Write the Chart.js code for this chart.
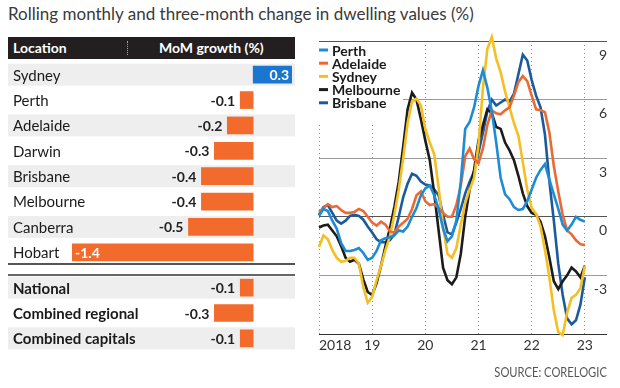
<!DOCTYPE html>
<html>
<head>
<meta charset="utf-8">
<script src="https://cdn.jsdelivr.net/npm/chart.js@4.4.0/dist/chart.umd.min.js"></script>
<style>
  html, body { margin: 0; padding: 0; background: #fff; }
  body { width: 620px; height: 388px; position: relative; overflow: hidden; font-family: Lato, sans-serif; color: #333; }
  .abs { position: absolute; }
  #title { left: 8px; top: 3px; font-size: 17px; white-space: nowrap; color: #3a3a3a; }
  #head { left: 8px; top: 37px; width: 287px; height: 22px; background: #231f20; color: #fff; font-weight: bold; font-size: 14px; line-height: 22px; }
  #head span { position: absolute; }
  #sep { left: 119px; top: 4px; height: 14px; border-left: 1px dotted #aaa; }
  .rule { left: 8px; width: 287px; height: 0; border-top: 2px solid #555; }
  #source { right: 13px; top: 364px; font-size: 13px; color: #555; transform: scaleX(0.86); transform-origin: right center; white-space: nowrap; }
</style>
</head>
<body>
<div id="title" class="abs">Rolling monthly and three-month change in dwelling values (%)</div>
<div id="head" class="abs">
  <span style="left:5px">Location</span>
  <span id="sep"></span>
  <span style="left:151px">MoM growth (%)</span>
</div>
<canvas id="cities" class="abs" style="left:8px;top:62px" width="287" height="203"></canvas>
<div class="abs rule" style="top:263px"></div>
<div class="abs rule" style="top:274px;border-top-color:#666"></div>
<canvas id="aggregates" class="abs" style="left:8px;top:275px" width="287" height="76"></canvas>
<canvas id="trend" class="abs" style="left:300px;top:0" width="320" height="388"></canvas>
<div id="source" class="abs">SOURCE: CORELOGIC</div>

<script>
// MoM growth table
const cities = ['Sydney', 'Perth', 'Adelaide', 'Darwin', 'Brisbane', 'Melbourne', 'Canberra', 'Hobart'];
const cityGrowth = [0.3, -0.1, -0.2, -0.3, -0.4, -0.4, -0.5, -1.4];
const aggregates = ['National', 'Combined regional', 'Combined capitals'];
const aggregateGrowth = [-0.1, -0.3, -0.1];

// rolling three-month change, monthly from Jan 2018 to Jan 2023
const perth = [0.05,0.4,0.3,-0.2,-0.6,-1.35,-1.75,-1.75,-1.7,-1.6,-1.85,-2.2,-2.1,-1.75,-1.2,-1.1,-1.05,-0.95,-0.7,-0.75,-0.5,0.0,0.45,1.1,1.45,1.6,1.1,0.4,-0.6,-1.25,-1.0,-0.2,1.8,4.5,4.85,5.6,6.7,7.5,6.6,5.4,3.8,2.0,1.15,0.9,0.5,0.35,0.4,0.8,1.4,2.0,2.4,2.7,1.9,1.15,0.4,-0.4,-0.7,-0.4,0.0,-0.15,-0.25];
const adelaide = [0.25,0.45,0.65,0.5,0.55,0.35,0.2,0.2,0.25,0.4,0.3,0.0,-0.3,-0.45,-0.25,-0.4,-0.75,-0.8,-0.5,-0.3,-0.1,0.4,1.1,1.3,0.8,0.6,0.65,0.45,0.2,0.0,0.0,0.6,1.6,3.1,3.5,2.95,2.75,3.5,4.7,5.45,5.3,5.25,5.45,5.6,6.2,6.9,7.2,6.95,6.2,5.5,5.45,5.35,4.3,2.6,1.3,0.1,-0.7,-0.9,-1.2,-1.4,-1.45];
const sydney = [-1.55,-0.95,-1.15,-1.7,-2.1,-2.3,-2.25,-2.1,-2.1,-2.4,-3.6,-4.4,-4.1,-3.25,-2.5,-1.7,-1.0,0.1,1.4,3.0,4.8,5.9,6.05,5.7,4.5,3.8,3.2,1.5,-0.5,-1.9,-2.1,-1.6,-0.4,0.7,1.4,2.0,3.7,6.6,8.6,9.2,8.1,7.4,6.4,5.6,4.8,4.15,2.8,1.4,0.45,0.15,-0.5,-1.7,-3.1,-4.8,-5.9,-6.05,-4.9,-4.15,-4.0,-3.65,-2.5];
const melbourne = [-0.55,-0.45,-0.4,-0.7,-1.0,-1.5,-2.1,-2.3,-2.2,-2.4,-3.2,-3.85,-4.0,-3.4,-2.5,-1.5,-0.6,0.5,1.8,3.6,5.5,6.35,6.0,5.0,3.9,2.9,1.2,-0.7,-2.6,-3.25,-3.45,-3.1,-1.9,0.0,1.4,2.4,3.9,4.7,5.5,5.3,4.6,4.5,3.8,3.4,2.9,2.1,1.2,0.55,0.2,0.1,-0.25,-1.0,-2.1,-3.3,-3.7,-3.3,-3.0,-2.6,-2.8,-3.1,-2.5];
const brisbane = [0.1,0.5,0.6,0.2,-0.2,-0.35,-0.2,0.05,0.1,0.05,-0.15,-0.5,-0.8,-1.15,-1.3,-1.3,-1.2,-0.9,0.0,1.0,1.7,2.2,2.1,1.8,1.65,1.6,1.4,1.1,0.1,-0.8,-0.9,-0.3,0.4,1.2,1.8,2.3,3.3,4.3,5.4,6.0,5.7,5.85,6.0,5.9,6.3,7.3,8.3,8.0,7.0,6.2,5.6,4.2,1.8,-0.2,-2.4,-4.0,-5.2,-5.5,-5.3,-4.5,-3.1];
const yearLabels = ['2018', '19', '20', '21', '22', '23'];

const ORANGE = '#f26a2c';
const BLUE = '#1a76cf';
const FONT = 'Lato, sans-serif';

// month axis runs Jan 2018 .. Jun 2023 (a little room after the last point)
const months = [];
for (let y = 2018; y <= 2023; y++) {
  for (let m = 1; m <= 12; m++) {
    if (y === 2023 && m > 6) break;
    months.push(y + '-' + String(m).padStart(2, '0'));
  }
}

function tableRows(bold) {
  return {
    id: 'tableRows',
    beforeDatasetsDraw(chart) {
      const { ctx, scales: { y } } = chart;
      ctx.save();
      chart.data.labels.forEach((name, i) => {
        const py = y.getPixelForValue(i);
        if (i % 2 === 0) {
          ctx.fillStyle = '#eeeeee';
          ctx.fillRect(0, py - 11, chart.width, 22);
        }
        ctx.fillStyle = '#1a1a1a';
        ctx.font = (bold ? 'bold ' : '') + '15px ' + FONT;
        ctx.textAlign = 'left';
        ctx.textBaseline = 'middle';
        ctx.fillText(name, 5, py + 1);
      });
      ctx.restore();
    },
    afterDatasetsDraw(chart) {
      const { ctx } = chart;
      const vals = chart.data.datasets[0].data;
      ctx.save();
      ctx.font = 'bold 14px ' + FONT;
      ctx.textBaseline = 'middle';
      chart.getDatasetMeta(0).data.forEach((bar, i) => {
        const v = vals[i];
        const txt = v.toFixed(1);
        const left = Math.min(bar.x, bar.base), right = Math.max(bar.x, bar.base);
        if (v > 0) {
          ctx.fillStyle = '#fff'; ctx.textAlign = 'right';
          ctx.fillText(txt, right - 3, bar.y + 1);
        } else if (right - left > 120) {
          // long bar: value goes inside, at its far end
          ctx.fillStyle = '#fff'; ctx.textAlign = 'left';
          ctx.fillText(txt, left + 3, bar.y + 1);
        } else {
          ctx.fillStyle = '#222'; ctx.textAlign = 'right';
          ctx.fillText(txt, left - 5, bar.y + 1);
        }
      });
      ctx.restore();
    }
  };
}

function barTable(id, labels, values, bold) {
  return new Chart(document.getElementById(id), {
    type: 'bar',
    data: {
      labels: labels,
      datasets: [{
        data: values,
        backgroundColor: values.map(v => v > 0 ? BLUE : ORANGE),
        borderWidth: 0,
        barThickness: 17
      }]
    },
    options: {
      indexAxis: 'y',
      responsive: false,
      animation: false,
      events: [],
      layout: { padding: { left: 64, right: 3, top: 0, bottom: 0 } },
      scales: {
        x: { display: false, min: -1.4, max: 0.3 },
        y: { display: false }
      },
      plugins: { legend: { display: false }, tooltip: { enabled: false } }
    },
    plugins: [tableRows(bold)]
  });
}

barTable('cities', cities, cityGrowth, false);
barTable('aggregates', aggregates, aggregateGrowth, true);

// legend sits inside the plot, top left, on a white box
const insideLegend = {
  id: 'insideLegend',
  beforeDatasetsDraw(chart) {
    const { ctx, chartArea } = chart;
    ctx.save();
    ctx.fillStyle = '#fff';
    ctx.fillRect(chartArea.left - 1, chartArea.top + 2, 85, 79);
    ctx.font = 'bold 14px ' + FONT;
    ctx.textBaseline = 'middle';
    ctx.textAlign = 'left';
    chart.data.datasets.forEach((ds, i) => {
      const y = chartArea.top + 9 + i * 13.2;
      ctx.strokeStyle = ds.borderColor;
      ctx.lineWidth = 3;
      ctx.beginPath();
      ctx.moveTo(chartArea.left, y);
      ctx.lineTo(chartArea.left + 9, y);
      ctx.stroke();
      ctx.fillStyle = '#1a1a1a';
      ctx.fillText(ds.label, chartArea.left + 13, y + 1);
    });
    ctx.restore();
  }
};

const yearAxisLabels = {
  id: 'yearAxisLabels',
  afterDraw(chart) {
    const { ctx, chartArea, scales: { x } } = chart;
    ctx.save();
    ctx.font = '14px ' + FONT;
    ctx.fillStyle = '#333';
    ctx.textBaseline = 'middle';
    yearLabels.forEach((lab, i) => {
      const px = x.getPixelForValue(i * 12);
      ctx.textAlign = i === 0 ? 'left' : 'center';
      ctx.fillText(lab, px, chartArea.bottom + 11);
    });
    ctx.restore();
  }
};

const line = (label, data, color) => ({
  label, data, borderColor: color, backgroundColor: color,
  borderWidth: 2.6, pointRadius: 0, tension: 0, clip: 8
});

new Chart(document.getElementById('trend'), {
  type: 'line',
  data: {
    labels: months,
    datasets: [
      line('Perth', perth, '#1e8bd6'),
      line('Adelaide', adelaide, '#ea6a36'),
      line('Sydney', sydney, '#f5bf22'),
      line('Melbourne', melbourne, '#1c1c1a'),
      line('Brisbane', brisbane, '#1b5b9d')
    ]
  },
  options: {
    responsive: false,
    animation: false,
    events: [],
    layout: { padding: { left: 19, right: 13, top: 41, bottom: 54 } },
    scales: {
      x: {
        offset: false,
        afterBuildTicks: s => { s.ticks = s.ticks.filter(t => t.value % 12 === 0); },
        ticks: { display: false, autoSkip: false },
        grid: { color: '#8a8a8a', lineWidth: 1, drawTicks: false },
        border: { display: false, dash: [1, 3] }
      },
      y: {
        position: 'right',
        min: -6, max: 9,
        ticks: {
          stepSize: 3, mirror: true, padding: 0, labelOffset: 14,
          color: '#333', font: { family: FONT, size: 14 },
          callback: v => v === -6 ? '' : v
        },
        grid: {
          drawTicks: false, lineWidth: 1,
          color: c => {
            const v = c.tick.value;
            if (v === -6) return '#333';
            if (v === 0 || v === 9) return '#555';
            return '#9a9a9a';
          }
        },
        border: { display: false }
      }
    },
    plugins: { legend: { display: false }, tooltip: { enabled: false } }
  },
  plugins: [insideLegend, yearAxisLabels]
});
</script>
</body>
</html>
